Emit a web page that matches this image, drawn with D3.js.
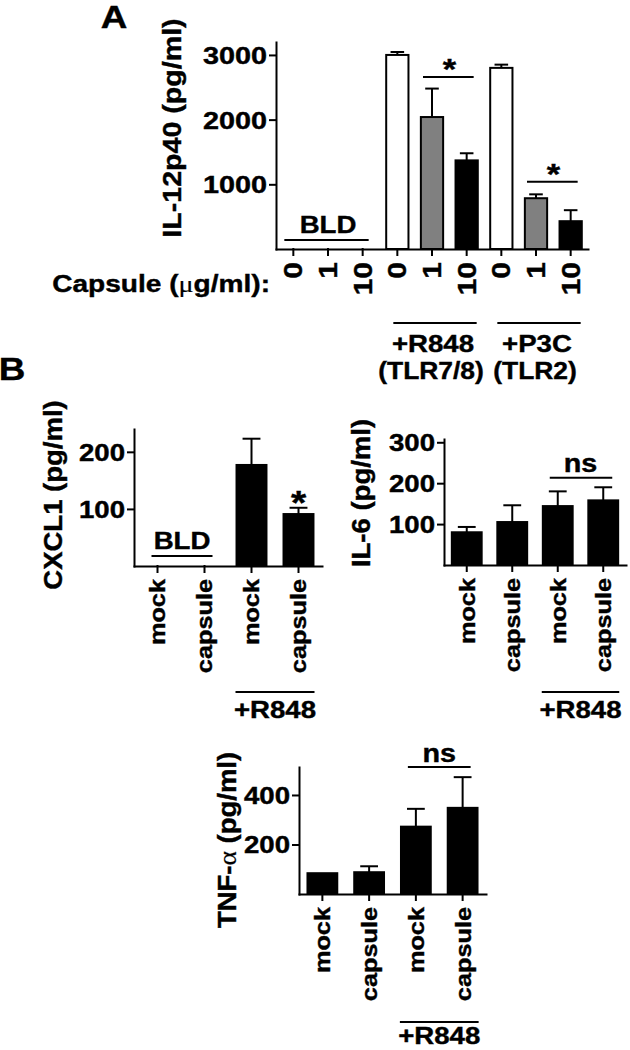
<!DOCTYPE html>
<html>
<head>
<meta charset="utf-8">
<script src="https://cdn.jsdelivr.net/npm/d3@7"></script>
<style>
  body { margin: 0; background: #fff; }
  text { font-family: "Liberation Sans", Arial, sans-serif; font-weight: bold; fill: #000; stroke: #000; stroke-width: 0.4px; }
  .sym { font-family: "Liberation Serif", serif; font-weight: normal; stroke-width: 0.2px; }
</style>
</head>
<body>
<svg width="630" height="1050"></svg>
<script>
// ---- panel A : IL-12p40 ----
const concLabels = ["0", "1", "10", "0", "1", "10", "0", "1", "10"];
const il12Values = [null, null, null, 3000, 2040, 1370, 2800, 785, 430];
const il12Errors = [0, 0, 0, 45, 440, 110, 50, 60, 170];
const il12Ticks = [1000, 2000, 3000];
const il12Groups = [
  { from: 3, to: 5, label: "+R848", sub: "(TLR7/8)" },
  { from: 6, to: 8, label: "+P3C", sub: "(TLR2)" }
];

// ---- panel B ----
const treatLabels = ["mock", "capsule", "mock", "capsule"];
const cxcl1Values = [null, null, 177, 91];
const cxcl1Errors = [0, 0, 46, 11];
const cxcl1Ticks = [100, 200];
const il6Values = [80, 105, 144, 158];
const il6Errors = [13, 41, 36, 32];
const il6Ticks = [100, 200, 300];
const tnfValues = [84, 88, 272, 348];
const tnfErrors = [0, 24, 72, 124];
const tnfTicks = [200, 400];

const svg = d3.select("svg");
const K = 1.15;     // the figure's font runs wider than Liberation Sans
const KT = 1.2;     // tick labels are a bit wider still

function label(parent, parts, x, y, size, opts = {}) {
  const k = opts.k || K;
  const rot = opts.rot ? ` rotate(${opts.rot})` : "";
  const t = parent.append("text")
    .attr("transform", `translate(${x},${y})${rot} scale(${k},1)`)
    .attr("text-anchor", opts.anchor || "middle")
    .style("font-size", size + "px");
  if (typeof parts === "string") parts = [{ t: parts }];
  parts.forEach(p => t.append("tspan").attr("class", p.sym ? "sym" : null).text(p.t));
  return t;
}

function hline(parent, x1, x2, y) {
  parent.append("line")
    .attr("x1", x1).attr("x2", x2).attr("y1", y).attr("y2", y)
    .attr("stroke", "#000").attr("stroke-width", 2);
}

function barPanel(cfg) {
  const g = svg.append("g");
  const n = cfg.values.length;
  const x = d3.scaleBand().domain(d3.range(n)).range(cfg.xRange)
    .paddingInner(cfg.pad).paddingOuter(cfg.pad / 2);
  const y = d3.scaleLinear().domain(cfg.yDomain).range(cfg.yRange);
  const bw = x.bandwidth();
  const cx = i => x(i) + bw / 2;
  const rows = cfg.values.map((v, i) => ({ i, v, e: cfg.errors[i] })).filter(d => d.v != null);

  // error bars
  const eb = g.append("g").attr("stroke", "#000").attr("stroke-width", 2);
  rows.filter(d => d.e > 0).forEach(d => {
    eb.append("line").attr("x1", cx(d.i)).attr("x2", cx(d.i))
      .attr("y1", y(d.v)).attr("y2", y(d.v + d.e));
    eb.append("line").attr("x1", cx(d.i) - bw * 0.28).attr("x2", cx(d.i) + bw * 0.28)
      .attr("y1", y(d.v + d.e)).attr("y2", y(d.v + d.e));
  });

  g.append("g").selectAll("rect").data(rows).join("rect")
    .attr("x", d => x(d.i) + 1)
    .attr("y", d => y(d.v))
    .attr("width", bw - 2)
    .attr("height", d => y(0) - y(d.v))
    .attr("fill", d => cfg.fill(d.i))
    .attr("stroke", "#000")
    .attr("stroke-width", 2);

  // axes
  const ya = g.append("g").attr("transform", `translate(${cfg.xRange[0]},0)`)
    .call(d3.axisLeft(y).tickValues(cfg.ticks).tickSize(6).tickSizeOuter(0).tickFormat(d3.format("d")));
  const xa = g.append("g").attr("transform", `translate(0,${y(0)})`)
    .call(d3.axisBottom(x).tickSize(6).tickSizeOuter(0).tickFormat(i => cfg.labels[i]));
  [ya, xa].forEach(a => {
    a.attr("font-family", null).attr("font-size", null);
    a.selectAll("path, line").attr("stroke-width", 2).attr("stroke-linecap", "square");
  });
  ya.selectAll("text")
    .attr("x", null)
    .attr("dy", "0.36em")
    .attr("transform", `translate(-9,0) scale(${KT},1)`)
    .style("font-size", cfg.yTickSize + "px");
  xa.selectAll("text")
    .attr("y", null)
    .attr("dy", "0.36em")
    .attr("text-anchor", "end")
    .attr("transform", `translate(0,${cfg.xLabOff}) rotate(-90) scale(${cfg.xTickK || KT},1)`)
    .style("font-size", cfg.xTickSize + "px");

  label(g, cfg.title, cfg.titlePos[0], cfg.titlePos[1], cfg.titleSize, { rot: -90, k: 1.1 });
  return { g, x, y, cx };
}

// ================= A =================
const shade = d3.scaleOrdinal().domain(["0", "1", "10"]).range(["#ffffff", "#808080", "#000000"]);
const A = barPanel({
  values: il12Values, errors: il12Errors, labels: concLabels,
  fill: i => shade(concLabels[i]),
  xRange: [276, 588], yRange: [249, 42], yDomain: [0, 3200], ticks: il12Ticks, pad: 0.3,
  yTickSize: 24, xTickSize: 25, xLabOff: 13,
  title: "IL-12p40 (pg/ml)", titlePos: [181, 128], titleSize: 26
});
label(svg, "A", 114, 28, 32);
// below detection
hline(A.g, A.cx(0) - 9, A.cx(2) + 6, A.y(140));
label(A.g, "BLD", (A.cx(0) + A.cx(2)) / 2, A.y(140) - 7, 24);
// significance
[[4, 5, 2660], [7, 8, 1040]].forEach(([a, b, v]) => {
  hline(A.g, A.cx(a) - 9, A.cx(b) + 7, A.y(v));
  label(A.g, "*", (A.cx(a) + A.cx(b)) / 2, A.y(v) + 2, 30);
});
label(svg, [{ t: "Capsule (" }, { t: "μ", sym: true }, { t: "g/ml):" }], 270, 292, 24, { anchor: "end", k: 1.17 });
il12Groups.forEach(gr => {
  const x1 = A.cx(gr.from) - 4, x2 = A.cx(gr.to) + 10;
  hline(A.g, x1, x2, 323);
  label(A.g, gr.label, (x1 + x2) / 2 - 2, 352, 24);
  label(A.g, gr.sub, (x1 + x2) / 2 - 4, 379, 24, { k: 1.1 });
});

// ================= B =================
label(svg, "B", 12, 380, 32);

function r848(P, y0, dy) {
  const x1 = P.cx(2) - 16, x2 = P.cx(3) + 16;
  hline(P.g, x1, x2, y0);
  label(P.g, "+R848", (x1 + x2) / 2, y0 + dy, 24);
}

const C = barPanel({
  values: cxcl1Values, errors: cxcl1Errors, labels: treatLabels, fill: () => "#000",
  xRange: [134, 322], yRange: [566, 429], yDomain: [0, 240], ticks: cxcl1Ticks, pad: 0.32,
  yTickSize: 23, xTickSize: 22, xTickK: 1.15, xLabOff: 13,
  title: "CXCL1 (pg/ml)", titlePos: [62, 495], titleSize: 25
});
hline(C.g, C.cx(0) - 6, C.cx(1) + 8, C.y(17.5));
label(C.g, "BLD", (C.cx(0) + C.cx(1)) / 2 + 1, C.y(17.5) - 7, 23, { k: 1.2 });
label(C.g, "*", C.cx(3), C.y(cxcl1Values[3] + cxcl1Errors[3]) + 6, 34);
r848(C, 692, 26);

const I6 = barPanel({
  values: il6Values, errors: il6Errors, labels: treatLabels, fill: () => "#000",
  xRange: [444, 626], yRange: [565, 439], yDomain: [0, 308], ticks: il6Ticks, pad: 0.3,
  yTickSize: 23, xTickSize: 22, xTickK: 1.15, xLabOff: 13,
  title: "IL-6 (pg/ml)", titlePos: [370, 493], titleSize: 25
});
hline(I6.g, I6.cx(2) - 8, I6.cx(3) + 9, I6.y(213));
label(I6.g, "ns", (I6.cx(2) + I6.cx(3)) / 2, I6.y(213) - 6, 25);
r848(I6, 692, 26);

const T = barPanel({
  values: tnfValues, errors: tnfErrors, labels: treatLabels, fill: () => "#000",
  xRange: [299, 486], yRange: [894, 767], yDomain: [0, 513], ticks: tnfTicks, pad: 0.32,
  yTickSize: 23, xTickSize: 22, xTickK: 1.15, xLabOff: 13,
  title: [{ t: "TNF-" }, { t: "α", sym: true }, { t: " (pg/ml)" }], titlePos: [236, 840], titleSize: 25
});
hline(T.g, T.cx(2) - 8, T.cx(3) + 8, T.y(513));
label(T.g, "ns", (T.cx(2) + T.cx(3)) / 2, T.y(513) - 5, 25);
r848(T, 1022, 22);
</script>
</body>
</html>
